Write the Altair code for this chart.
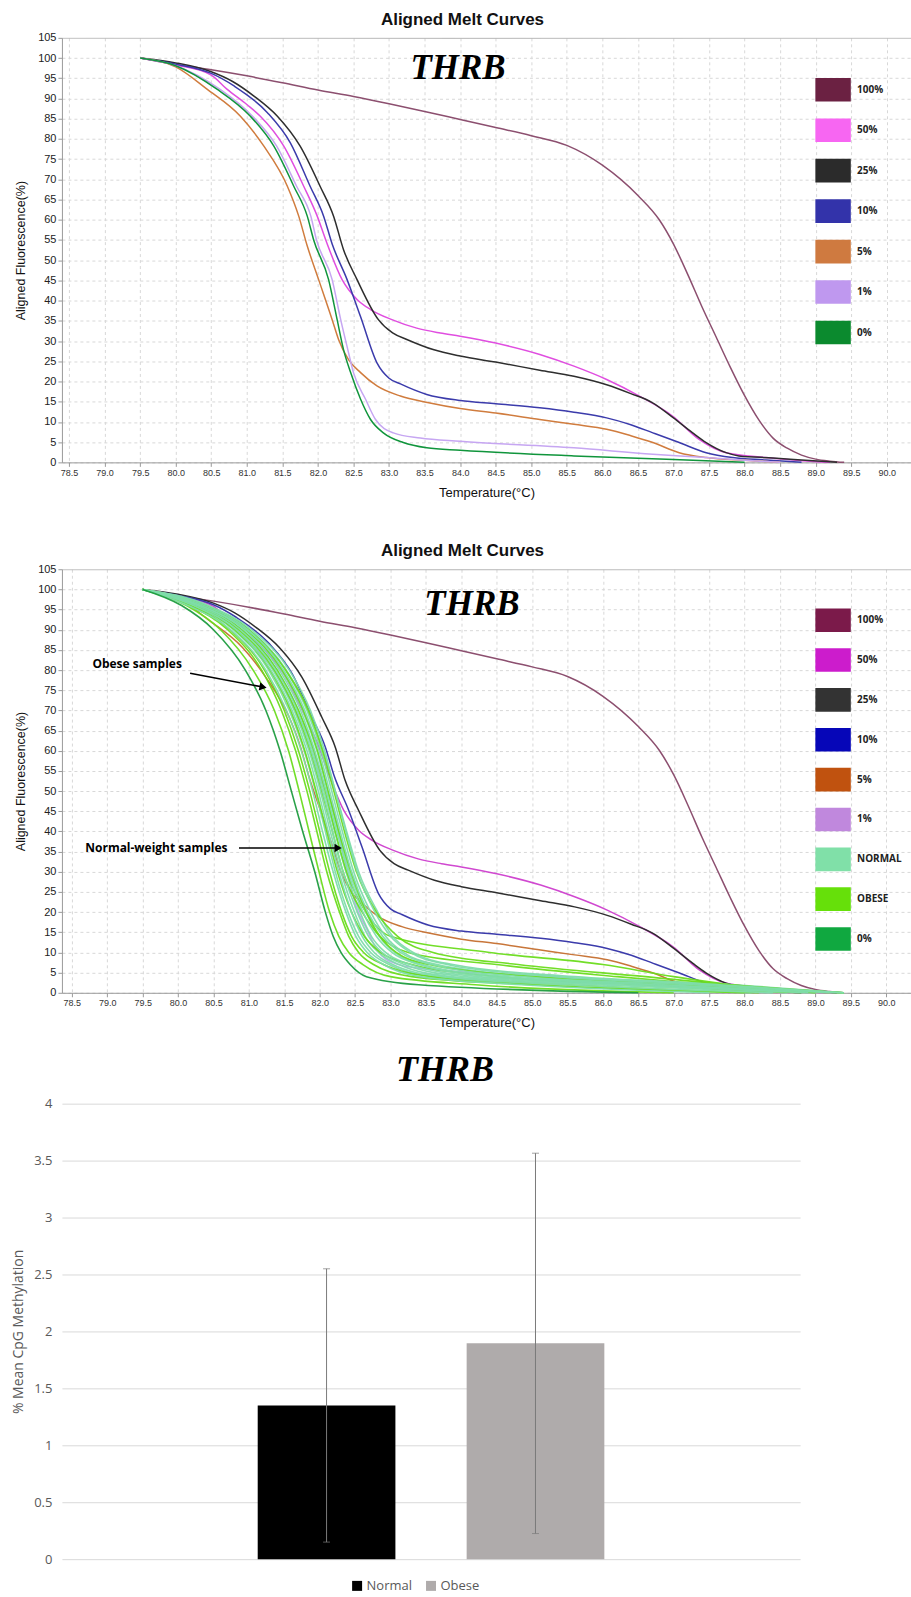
import altair as alt
import pandas as pd

# ---------------- Melt-curve standards (temperature °C, aligned fluorescence %) ----------------
S100_T = [79.5, 80.0, 80.5, 81.0, 81.5, 82.0, 82.5, 83.0, 83.5, 84.0, 84.5, 85.0, 85.5, 86.0, 86.5,
          86.8, 87.0, 87.2, 87.4, 87.6, 87.8, 88.0, 88.2, 88.4, 88.6, 88.8, 89.0, 89.2, 89.4]
S100_F = [100, 98.4, 97.1, 95.6, 93.9, 92.1, 90.5, 88.7, 86.8, 84.8, 82.8, 80.8, 78.4, 73.5, 66.0,
          60.0, 54.0, 46.5, 38.5, 31.0, 23.5, 16.5, 10.5, 6.0, 3.5, 1.8, 0.8, 0.3, 0.0]

S50_T = [79.5, 80.0, 80.5, 80.72, 81.0, 81.19, 81.52, 81.80, 81.99, 82.11, 82.34, 82.55, 82.74, 83.04,
         83.39, 83.72, 84.0, 84.5, 85.12, 85.6, 86.06, 86.52, 86.99, 87.36, 87.74, 88.3, 88.8, 89.2]
S50_F = [100, 98.3, 95.8, 92.3, 88.5, 85.6, 78.2, 68.3, 60.9, 55.0, 45.2, 40.3, 37.8, 35.3,
         33.2, 32.0, 31.2, 29.5, 26.7, 23.8, 20.5, 16.4, 11.4, 5.7, 2.4, 1.2, 0.4, 0.0]

S25_T = [79.5, 80.0, 80.5, 80.8, 81.10, 81.43, 81.75, 82.03, 82.22, 82.36, 82.55, 82.85, 83.05, 83.25,
         83.62, 84.0, 84.5, 85.12, 85.6, 86.06, 86.4, 86.7, 87.0, 87.27, 87.46, 87.74, 87.92, 88.4, 88.8, 89.3]
S25_F = [100, 98.8, 96.6, 94.2, 90.6, 85.6, 78.2, 68.3, 60.9, 52.6, 45.2, 35.3, 32.0, 30.4,
         27.9, 26.3, 24.8, 22.8, 21.3, 19.2, 17.0, 14.8, 11.0, 7.3, 4.9, 2.4, 1.6, 1.1, 0.6, 0.0]

S10_T = [79.5, 80.0, 80.5, 80.82, 81.29, 81.61, 81.89, 82.08, 82.2, 82.41, 82.6, 82.83, 83.0, 83.16,
         83.53, 84.0, 84.5, 85.12, 85.6, 86.06, 86.4, 86.71, 87.08, 87.46, 87.83, 88.3, 88.8]
S10_F = [100, 98.5, 96.2, 93.1, 86.5, 79.1, 68.3, 60.9, 54.0, 45.2, 36.0, 24.6, 20.8, 19.4,
         16.8, 15.3, 14.5, 13.5, 12.4, 11.0, 9.3, 7.3, 4.9, 2.4, 1.2, 0.6, 0.0]

S5_T = [79.5, 80.0, 80.44, 80.91, 81.24, 81.57, 81.73, 81.85, 82.01, 82.2, 82.29, 82.43, 82.6, 82.83,
        83.16, 83.54, 84.0, 84.5, 85.12, 85.6, 86.06, 86.4, 86.71, 87.08, 87.46, 88.0, 88.5]
S5_F = [100, 97.8, 92.3, 85.6, 78.2, 68.3, 60.9, 53.5, 45.2, 35.3, 30.4, 25.4, 22.2, 18.9,
        16.4, 14.8, 13.3, 12.2, 10.6, 9.4, 8.2, 6.6, 4.9, 2.4, 1.2, 0.5, 0.0]

S1_T = [79.5, 80.0, 80.62, 81.08, 81.42, 81.70, 81.90, 81.98, 82.2, 82.32, 82.42, 82.5, 82.67, 82.81,
        83.06, 83.44, 84.0, 85.6, 86.71, 87.46, 88.0, 88.5]
S1_F = [100, 98.1, 92.3, 85.6, 78.2, 68.3, 60.9, 55.0, 45.2, 35.3, 27.9, 22.2, 15.6, 10.6,
        7.3, 6.0, 5.2, 3.6, 2.0, 1.2, 0.5, 0.0]

S0_T = [79.5, 80.0, 80.58, 81.05, 81.38, 81.66, 81.85, 81.94, 82.15, 82.27, 82.36, 82.46, 82.6, 82.74,
        82.92, 83.2, 83.53, 84.0, 85.6, 87.0, 88.0]
S0_F = [100, 98.1, 92.3, 85.6, 78.2, 68.3, 60.9, 55.0, 45.2, 35.3, 27.9, 22.2, 15.6, 10.6,
        7.3, 4.9, 3.6, 3.0, 1.6, 0.7, 0.0]

# ---------------- Sample curves (middle panel): temperatures at shared fluorescence levels ----------------
SAMPLE_F = [100, 96, 90, 80, 70, 60, 50, 40, 30, 20, 14, 10, 7, 4, 2, 0]

NORMAL_T = [
    [79.5, 80.18, 80.78, 81.28, 81.57, 81.78, 81.94, 82.08, 82.22, 82.40, 82.55, 82.72, 82.98, 83.55, 85.10, 88.10],
    [79.5, 80.24, 80.84, 81.34, 81.64, 81.85, 82.01, 82.15, 82.30, 82.49, 82.64, 82.83, 83.12, 83.85, 85.90, 88.60],
    [79.5, 80.29, 80.90, 81.40, 81.70, 81.90, 82.06, 82.21, 82.37, 82.57, 82.73, 82.93, 83.28, 84.25, 86.55, 89.00],
    [79.5, 80.34, 80.95, 81.46, 81.76, 81.96, 82.11, 82.26, 82.42, 82.65, 82.84, 83.06, 83.45, 84.65, 87.05, 89.30],
    [79.5, 80.40, 81.01, 81.52, 81.82, 82.02, 82.17, 82.32, 82.48, 82.72, 82.93, 83.18, 83.66, 85.10, 87.45, 89.40],
    [79.5, 80.31, 80.97, 81.53, 81.84, 82.05, 82.22, 82.38, 82.55, 82.82, 83.03, 83.32, 83.88, 85.60, 87.85, 89.40],
    [79.5, 80.14, 80.74, 81.24, 81.53, 81.74, 81.90, 82.04, 82.19, 82.37, 82.51, 82.67, 82.90, 83.42, 84.85, 87.50],
    [79.5, 80.22, 80.82, 81.31, 81.61, 81.82, 81.98, 82.12, 82.27, 82.45, 82.60, 82.77, 83.03, 83.72, 85.50, 88.40],
    [79.5, 80.27, 80.88, 81.38, 81.68, 81.88, 82.04, 82.18, 82.33, 82.53, 82.69, 82.88, 83.20, 84.05, 86.20, 88.90],
    [79.5, 80.32, 80.93, 81.43, 81.73, 81.93, 82.09, 82.24, 82.40, 82.61, 82.80, 83.02, 83.40, 84.45, 86.85, 89.20],
    [79.5, 80.37, 80.99, 81.49, 81.79, 81.99, 82.14, 82.29, 82.45, 82.68, 82.89, 83.14, 83.58, 84.85, 87.25, 89.40],
    [79.5, 80.43, 81.04, 81.57, 81.87, 82.07, 82.22, 82.37, 82.53, 82.78, 83.00, 83.28, 83.80, 85.35, 87.65, 89.40],
]

OBESE_T = [
    [79.5, 80.12, 80.60, 81.06, 81.36, 81.56, 81.71, 81.85, 81.99, 82.14, 82.27, 82.41, 82.61, 83.00, 84.20, 87.00],
    [79.5, 80.19, 80.73, 81.22, 81.50, 81.70, 81.86, 82.00, 82.14, 82.31, 82.45, 82.62, 82.90, 83.60, 85.50, 88.20],
    [79.5, 80.24, 80.80, 81.30, 81.59, 81.79, 81.95, 82.10, 82.25, 82.45, 82.63, 82.86, 83.30, 84.50, 86.50, 88.80],
    [79.5, 80.30, 80.90, 81.40, 81.70, 81.92, 82.08, 82.22, 82.38, 82.65, 83.00, 84.40, 86.00, 87.00, 87.80, 89.00],
    [79.5, 80.27, 80.86, 81.36, 81.66, 81.87, 82.03, 82.18, 82.33, 82.60, 82.85, 83.25, 84.50, 86.20, 87.50, 89.20],
    [79.5, 80.35, 80.96, 81.47, 81.77, 81.97, 82.12, 82.27, 82.44, 82.66, 82.85, 83.08, 83.55, 85.00, 87.10, 89.40],
    [79.5, 80.17, 80.70, 81.18, 81.46, 81.66, 81.82, 81.96, 82.10, 82.28, 82.41, 82.55, 82.76, 83.30, 85.00, 88.00],
    [79.5, 80.38, 81.00, 81.52, 81.84, 82.04, 82.20, 82.35, 82.52, 82.80, 83.10, 83.60, 84.80, 86.60, 87.80, 89.40],
]

ZERO_T = [79.5, 80.05, 80.50, 80.95, 81.24, 81.44, 81.60, 81.76, 81.93, 82.08, 82.19, 82.30, 82.43, 82.66, 83.40, 86.50]

# ---------------- Labels / legends ----------------
X_TICKS = [78.5, 79.0, 79.5, 80.0, 80.5, 81.0, 81.5, 82.0, 82.5, 83.0, 83.5, 84.0,
           84.5, 85.0, 85.5, 86.0, 86.5, 87.0, 87.5, 88.0, 88.5, 89.0, 89.5, 90.0]
Y_TICKS = [0, 5, 10, 15, 20, 25, 30, 35, 40, 45, 50, 55, 60, 65, 70, 75, 80, 85, 90, 95, 100, 105]

TOP_NAMES = ["100%", "50%", "25%", "10%", "5%", "1%", "0%"]
TOP_LINE_COLORS = ["#8c4f6f", "#e04ee0", "#2e2e2e", "#3b3bab", "#d07c3e", "#c6a6f2", "#10953c"]
TOP_BOX_COLORS = ["#6b2142", "#f766f2", "#2b2b2b", "#3333aa", "#cf7a40", "#bf98ef", "#0b8a2e"]

MID_NAMES = ["100%", "50%", "25%", "10%", "5%", "1%", "NORMAL", "OBESE", "0%"]
MID_LINE_COLORS = ["#8c4f6f", "#d048d0", "#2e2e2e", "#3b3bab", "#c8763a", "#c6a6f2", "#7edcaa", "#6adc1c", "#1e9c3e"]
MID_BOX_COLORS = ["#7b1a4a", "#cc1ccc", "#333333", "#0606b8", "#c0520f", "#c088dd", "#80e0a8", "#66e00a", "#10a840"]

ANN_TEXT = ["Obese samples", "Normal-weight samples"]
ANN_T = [78.79, 78.69]
ANN_F = [81.4, 35.9]
ARROW_T1 = [80.17, 80.86]
ARROW_F1 = [79.2, 35.9]
ARROW_T2 = [81.20, 82.26]
ARROW_F2 = [75.8, 35.9]
ARROW_ANGLE = [11, 0]

# ---------------- Bar chart ----------------
BAR_GROUPS = ["Normal", "Obese"]
BAR_MEANS = [1.35, 1.895]
BAR_ERR = [1.20, 1.67]
BAR_COLORS = ["#000000", "#afabab"]
BAR_Y_TICKS = [0, 0.5, 1, 1.5, 2, 2.5, 3, 3.5, 4]

STD = {"100%": (S100_T, S100_F), "50%": (S50_T, S50_F), "25%": (S25_T, S25_F),
       "10%": (S10_T, S10_F), "5%": (S5_T, S5_F), "1%": (S1_T, S1_F), "0%": (S0_T, S0_F)}


def std_frame(names):
    rows = []
    for n in names:
        ts, fs = STD[n]
        for t, f in zip(ts, fs):
            rows.append({"T": t, "F": f, "series": n, "curve": n})
    return pd.DataFrame(rows)


def sample_frame():
    rows = []
    groups = []
    for i in range(max(len(NORMAL_T), len(OBESE_T))):
        if i < len(OBESE_T):
            groups.append(("OBESE", "O%d" % i, OBESE_T[i]))
        if i < len(NORMAL_T):
            groups.append(("NORMAL", "N%d" % i, NORMAL_T[i]))
    groups.append(("0%", "Z0", ZERO_T))
    for series, cid, ts in groups:
        for t, f in zip(ts, SAMPLE_F):
            rows.append({"T": t, "F": f, "series": series, "curve": cid})
    return pd.DataFrame(rows)


FONT = "Liberation Sans"


def x_enc(domain):
    return alt.X("T:Q", scale=alt.Scale(domain=domain, nice=False, zero=False),
                 axis=alt.Axis(values=X_TICKS, tickCount=100, format=".1f", title="Temperature(°C)",
                               labelOverlap=False,
                               labelFont=FONT, labelFontSize=9, labelColor="#333333", labelPadding=2,
                               titleFont=FONT, titleFontSize=13, titleFontWeight="normal",
                               titleColor="#111111", titlePadding=9,
                               domainColor="#9a9a9a", tickColor="#9a9a9a", tickSize=4,
                               grid=True, gridColor="#d8d8d8", gridDash=[3, 3], gridWidth=1))


def y_enc():
    return alt.Y("F:Q", scale=alt.Scale(domain=[0, 105], nice=False),
                 axis=alt.Axis(values=Y_TICKS, tickCount=100, title="Aligned Fluorescence(%)",
                               labelOverlap=False,
                               labelFont=FONT, labelFontSize=11, labelColor="#222222", labelPadding=2,
                               titleFont=FONT, titleFontSize=12.5, titleFontWeight="normal",
                               titleColor="#111111", titlePadding=10,
                               domainColor="#9a9a9a", tickColor="#9a9a9a", tickSize=4,
                               grid=True,
                               gridColor={"condition": {"test": "datum.value === 105", "value": "#b4b4b4"},
                                          "value": "#d8d8d8"},
                               gridDash={"condition": {"test": "datum.value === 105", "value": [1, 0]},
                                         "value": [3, 3]},
                               gridWidth=1))


def legend_layer(names, colors, leg_y, domain, row_pad):
    # one square per legend entry, placed outside the x domain and clipped: only its legend shows
    df = pd.DataFrame({"key": names, "T": [70.0] * len(names), "F": [50.0] * len(names)})
    return alt.Chart(df).mark_square(filled=True, opacity=1, clip=True).encode(
        x=x_enc(domain), y=y_enc(),
        color=alt.Color("key:N", scale=alt.Scale(domain=names, range=colors),
                        legend=alt.Legend(title=None, orient="none", legendX=760, legendY=leg_y,
                                          direction="vertical", symbolType="M-1.5,-1H1.5V1H-1.5Z",
                                          symbolSize=560, symbolStrokeWidth=0, symbolOpacity=1,
                                          labelFont="Open Sans", labelFontWeight="bold", labelFontSize=10,
                                          labelColor="#222222", labelOffset=12, rowPadding=row_pad,
                                          padding=0)))


def melt_title(extra_top):
    text = ["", "Aligned Melt Curves"] if extra_top else "Aligned Melt Curves"
    return alt.Title(text, font=FONT, fontSize=17, fontWeight="bold", color="#111111",
                     anchor="middle", offset=3, dx=-24, lineHeight=21)


def thrb_layer(t, f):
    df = pd.DataFrame({"T": [t], "F": [f], "label": ["THRB"]})
    return alt.Chart(df).mark_text(font="Liberation Serif", fontSize=35, fontWeight="bold",
                                   fontStyle="italic", color="#000000", align="center",
                                   baseline="alphabetic").encode(x="T:Q", y="F:Q", text="label:N")


def line_stroke(domain, rng):
    return alt.Stroke("series:N", scale=alt.Scale(domain=domain, range=rng), legend=None)


TOP_DOMAIN = [78.40, 90.34]
MID_DOMAIN = [78.36, 90.35]

# ---------------- Top panel ----------------
top_df = std_frame(TOP_NAMES)
top_lines = alt.Chart(top_df).mark_line(strokeWidth=1.5, interpolate="monotone").encode(
    x=x_enc(TOP_DOMAIN), y=y_enc(), stroke=line_stroke(TOP_NAMES, TOP_LINE_COLORS), detail="curve:N")
top = alt.layer(legend_layer(TOP_NAMES, TOP_BOX_COLORS, 40, TOP_DOMAIN, 16.5), top_lines,
                thrb_layer(83.97, 94.7)).properties(width=850, height=425, title=melt_title(False))

# ---------------- Middle panel ----------------
mid_std = std_frame(["100%", "50%", "25%", "10%", "5%", "1%"])
mid_std_lines = alt.Chart(mid_std).mark_line(strokeWidth=1.5, interpolate="monotone").encode(
    x=x_enc(MID_DOMAIN), y=y_enc(), stroke=line_stroke(MID_NAMES, MID_LINE_COLORS), detail="curve:N")
mid_samples = alt.Chart(sample_frame()).mark_line(strokeWidth=1.6, interpolate="monotone", opacity=0.95).encode(
    x="T:Q", y="F:Q", stroke=line_stroke(MID_NAMES, MID_LINE_COLORS), detail="curve:N")
ann_df = pd.DataFrame({"text": ANN_TEXT, "T": ANN_T, "F": ANN_F})
arr_df = pd.DataFrame({"T": ARROW_T1, "F": ARROW_F1, "T2": ARROW_T2, "F2": ARROW_F2, "ang": ARROW_ANGLE})
ann_text = alt.Chart(ann_df).mark_text(align="left", baseline="middle", font="Open Sans", fontWeight="bold",
                                       fontSize=12, color="#000000").encode(x="T:Q", y="F:Q", text="text:N")
arr_line = alt.Chart(arr_df).mark_rule(color="#000000", strokeWidth=1.6).encode(
    x="T:Q", y="F:Q", x2="T2:Q", y2="F2:Q")
arr_head = alt.Chart(arr_df).mark_point(shape="triangle-right", filled=True, size=70, color="#000000",
                                        opacity=1).encode(
    x="T2:Q", y="F2:Q", angle=alt.Angle("ang:Q", scale=None))
mid = alt.layer(legend_layer(MID_NAMES, MID_BOX_COLORS, 39, MID_DOMAIN, 15.9), mid_std_lines, mid_samples,
                thrb_layer(84.15, 93.6), ann_text, arr_line, arr_head).properties(
    width=850, height=424, title=melt_title(True))

# ---------------- Bottom panel ----------------
bar_df = pd.DataFrame({"group": BAR_GROUPS, "mean": BAR_MEANS, "err": BAR_ERR})
base = alt.Chart(bar_df).transform_calculate(lo="datum.mean - datum.err", hi="datum.mean + datum.err")
bx = alt.X("group:N", sort=BAR_GROUPS, scale=alt.Scale(paddingInner=0.341, paddingOuter=0.937), axis=None)
bars = base.mark_bar().encode(
    x=bx,
    y=alt.Y("mean:Q", scale=alt.Scale(domain=[0, 4], nice=False),
            axis=alt.Axis(values=BAR_Y_TICKS, tickCount=100, format="~g", title="% Mean CpG Methylation",
                          domain=False, ticks=False, labelOverlap=False,
                          labelFont="Open Sans", labelFontSize=13, labelColor="#595959", labelPadding=10,
                          titleFont="Open Sans", titleFontSize=14, titleFontWeight="normal",
                          titleColor="#595959", titlePadding=8,
                          grid=True, gridColor="#d9d9d9", gridWidth=1)),
    color=alt.Color("group:N", scale=alt.Scale(domain=BAR_GROUPS, range=BAR_COLORS),
                    legend=alt.Legend(title=None, orient="none", legendX=289, legendY=20 + 456,
                                      direction="horizontal", symbolType="square", symbolSize=100,
                                      symbolStrokeWidth=0, labelFont="Open Sans", labelFontSize=13,
                                      labelColor="#595959", labelOffset=3, columnPadding=12, padding=0)))
err_rule = base.mark_rule(color="#7a7a7a", strokeWidth=1).encode(x=bx, y="lo:Q", y2="hi:Q")
cap_lo = base.mark_tick(color="#7a7a7a", size=7, thickness=1).encode(x=bx, y="lo:Q")
cap_hi = base.mark_tick(color="#7a7a7a", size=7, thickness=1).encode(x=bx, y="hi:Q")
bot = alt.layer(bars, err_rule, cap_lo, cap_hi).properties(
    width=739, height=456,
    title=alt.Title("THRB", font="Liberation Serif", fontSize=36, fontWeight="bold", fontStyle="italic",
                    color="#000000", anchor="middle", offset=9, dx=14))

chart = alt.vconcat(top, mid, bot, spacing=22).resolve_scale(color="independent", stroke="independent").properties(
    padding={"left": 11, "top": 10, "right": 0, "bottom": 0}
).configure(background="white").configure_view(stroke=None)

chart.save("out.html", embed_options={"renderer": "svg", "actions": False})
